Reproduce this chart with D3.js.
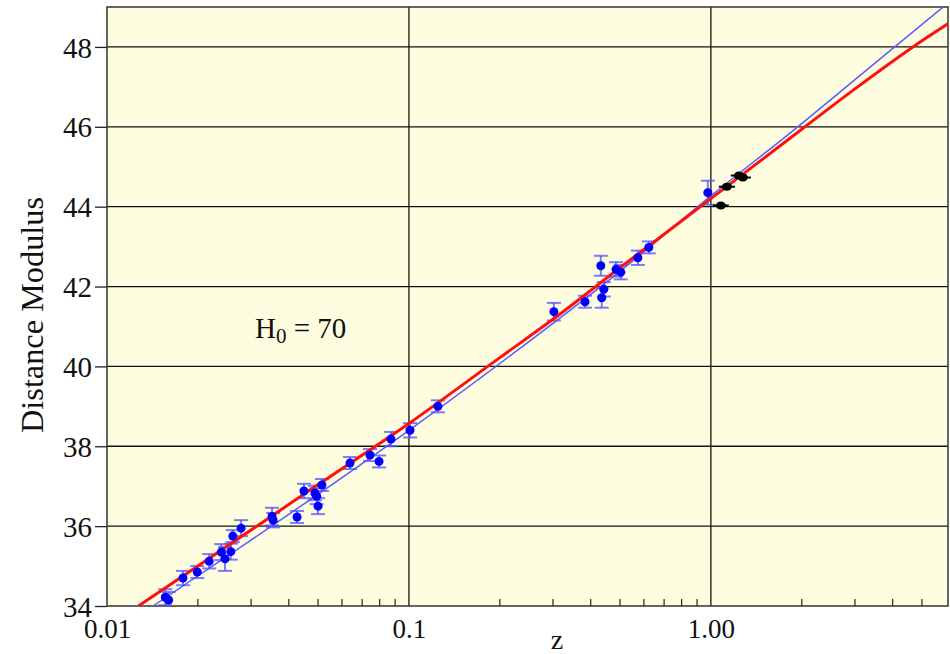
<!DOCTYPE html>
<html><head><meta charset="utf-8">
<script src="https://cdn.jsdelivr.net/npm/d3@7"></script>
<style>body{margin:0;background:#fff}svg{display:block}</style>
</head><body>
<svg id="c" width="950" height="654"></svg>
<script>
// ---- data ----
const snZ   = [0.0156,0.0160,0.01785,0.0199,0.0218,0.0239,0.0246,0.0257,0.0261,0.0278,0.0352,0.0355,0.0426,0.0449,0.0488,0.0495,0.0500,0.0515,0.0638,0.0743,0.0796,0.0872,0.1008,0.1247,0.302,0.383,0.432,0.435,0.442,0.485,0.503,0.573,0.623,0.977];
const snMu  = [34.22,34.15,34.70,34.85,35.12,35.35,35.18,35.36,35.75,35.95,36.24,36.15,36.23,36.88,36.83,36.75,36.50,37.03,37.58,37.78,37.62,38.18,38.40,39.00,41.37,41.62,42.52,41.72,41.93,42.43,42.36,42.72,42.98,44.35];
const snErr = [0.2,0.2,0.18,0.15,0.18,0.2,0.3,0.2,0.15,0.2,0.22,0.18,0.15,0.18,0.18,0.2,0.2,0.15,0.15,0.15,0.15,0.18,0.18,0.15,0.22,0.15,0.25,0.25,0.18,0.18,0.18,0.18,0.15,0.3];
const hiZ   = [1.079,1.130,1.238,1.276];
const hiMu  = [44.03,44.50,44.78,44.73];
const redZ  = [0.0127,0.02,0.05,0.1,0.2,0.3,0.5,1.0,2.0,3.0,4.67,6.1];
const redMu = [34.0,35.0,37.04,38.57,40.22,41.18,42.47,44.2,45.94,46.95,48.0,48.58];
const bluZ  = [0.0142,0.03,0.1,0.233,0.5,1.0,1.94,3.0,6.1];
const bluMu = [34.0,35.65,38.4,40.45,42.38,44.27,46.0,47.18,49.1];
const xMajor = [0.01,0.1,1];
const xMajorLabels = ["0.01","0.1","1.00"];
const xMinor = [0.02,0.03,0.04,0.05,0.06,0.07,0.08,0.09,0.2,0.3,0.4,0.5,0.6,0.7,0.8,0.9,2,3,4,5];
const yTicks = [34,36,38,40,42,44,46,48];

// ---- layout ----
const L=107, R=948, T=7, B=606;
const svg = d3.select("#c");
const x = d3.scaleLog().domain([0.01,6.1]).range([L,R]);
const y = d3.scaleLinear().domain([34,49]).range([B,T]);
const serif = "'Liberation Serif','Times New Roman',serif";
const ink = "#111";

svg.append("defs").append("clipPath").attr("id","clip")
  .append("rect").attr("x",L).attr("y",T).attr("width",R-L).attr("height",B-T);

svg.append("rect").attr("x",L).attr("y",T).attr("width",R-L).attr("height",B-T)
  .attr("fill","#fefde0");

// gridlines
const g = svg.append("g");
g.selectAll("line.h").data(yTicks.slice(1)).join("line")
  .attr("x1",L).attr("x2",R).attr("y1",d=>y(d)).attr("y2",d=>y(d))
  .attr("stroke","#111").attr("stroke-width",1.3);
g.selectAll("line.v").data(xMajor.slice(1)).join("line")
  .attr("y1",T).attr("y2",B).attr("x1",d=>x(d)).attr("x2",d=>x(d))
  .attr("stroke","#111").attr("stroke-width",1.3);

// minor ticks (inward)
g.selectAll("line.m").data(xMinor).join("line")
  .attr("x1",d=>x(d)).attr("x2",d=>x(d)).attr("y1",B).attr("y2",B-7)
  .attr("stroke","#222").attr("stroke-width",1.2);

// border
svg.append("rect").attr("x",L).attr("y",T).attr("width",R-L).attr("height",B-T)
  .attr("fill","none").attr("stroke","#333").attr("stroke-width",1.5);

// y axis
const yAx = svg.append("g").attr("transform",`translate(${L},0)`)
  .call(d3.axisLeft(y).tickValues(yTicks).tickSize(12).tickPadding(3).tickFormat(d3.format("d")));
yAx.select(".domain").remove();
yAx.selectAll("line").attr("stroke","#222").attr("stroke-width",1.3);
yAx.selectAll("text").attr("font-family",serif).attr("font-size",29).attr("fill",ink).attr("dy","0.35em");

// x axis labels
const xAx = svg.append("g").attr("transform",`translate(0,${B})`)
  .call(d3.axisBottom(x).tickValues(xMajor).tickSize(0).tickPadding(13)
    .tickFormat((d,i)=>xMajorLabels[i]));
xAx.select(".domain").remove();
xAx.selectAll("text").attr("font-family",serif).attr("font-size",27).attr("fill",ink);

// axis titles
svg.append("text").attr("x",557).attr("y",649).attr("text-anchor","middle")
  .attr("font-family",serif).attr("font-size",28).attr("fill",ink).text("z");
svg.append("text").attr("transform","translate(43,315) rotate(-90)").attr("text-anchor","middle")
  .attr("font-family",serif).attr("font-size",31).attr("fill",ink)
  .attr("textLength",236).attr("lengthAdjust","spacingAndGlyphs").text("Distance Modulus");

// annotation
const ann = svg.append("text").attr("x",255).attr("y",338)
  .attr("font-family",serif).attr("font-size",29).attr("fill",ink);
ann.append("tspan").text("H");
ann.append("tspan").attr("font-size",21).attr("dy",5).text("0");
ann.append("tspan").attr("dy",-5).text(" = 70");

const plot = svg.append("g").attr("clip-path","url(#clip)");
const line = d3.line().x(d=>x(d[0])).y(d=>y(d[1])).curve(d3.curveMonotoneX);

// blue model line
plot.append("path").datum(bluZ.map((z,i)=>[z,bluMu[i]]))
  .attr("d",line).attr("fill","none").attr("stroke","#5a5aff").attr("stroke-width",1.5);

// error bars
const sn = snZ.map((z,i)=>({z,mu:snMu[i],e:snErr[i]}));
const eb = plot.append("g").attr("stroke","#5050ff").attr("stroke-width",2).attr("stroke-opacity",0.75);
eb.selectAll("line.v").data(sn).join("line")
  .attr("x1",d=>x(d.z)).attr("x2",d=>x(d.z)).attr("y1",d=>y(d.mu+d.e)).attr("y2",d=>y(d.mu-d.e));
eb.selectAll("line.t").data(sn).join("line")
  .attr("x1",d=>x(d.z)-7).attr("x2",d=>x(d.z)+7).attr("y1",d=>y(d.mu+d.e)).attr("y2",d=>y(d.mu+d.e));
eb.selectAll("line.b").data(sn).join("line")
  .attr("x1",d=>x(d.z)-7).attr("x2",d=>x(d.z)+7).attr("y1",d=>y(d.mu-d.e)).attr("y2",d=>y(d.mu-d.e));

// red model line
plot.append("path").datum(redZ.map((z,i)=>[z,redMu[i]]))
  .attr("d",line).attr("fill","none").attr("stroke","#ff1010").attr("stroke-width",3);

// blue points
plot.selectAll("circle.sn").data(sn).join("circle")
  .attr("cx",d=>x(d.z)).attr("cy",d=>y(d.mu)).attr("r",4.5).attr("fill","#0000ff");

// black high-z points
const hi = hiZ.map((z,i)=>({z,mu:hiMu[i]}));
plot.selectAll("line.hi").data(hi).join("line")
  .attr("x1",d=>x(d.z)-8).attr("x2",d=>x(d.z)+8).attr("y1",d=>y(d.mu)).attr("y2",d=>y(d.mu))
  .attr("stroke","#000").attr("stroke-width",2);
plot.selectAll("ellipse.hi").data(hi).join("ellipse")
  .attr("cx",d=>x(d.z)).attr("cy",d=>y(d.mu)).attr("rx",5).attr("ry",4).attr("fill","#000");
</script>
</body></html>
